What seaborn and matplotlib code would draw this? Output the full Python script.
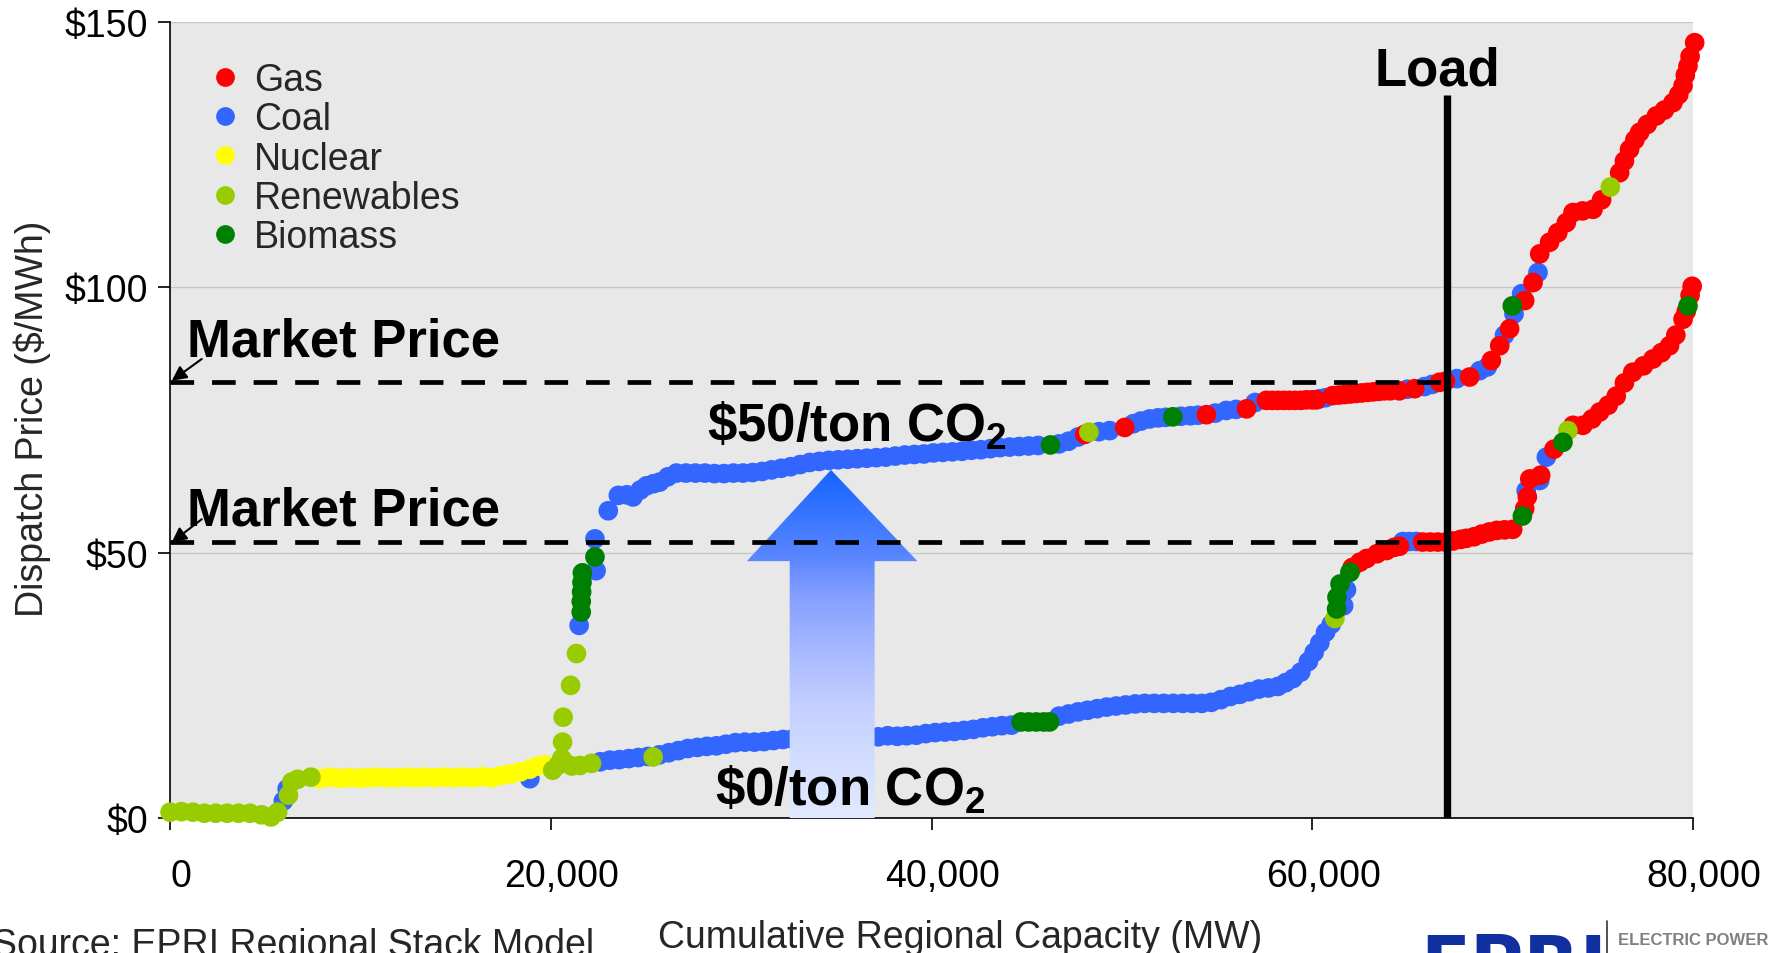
import matplotlib
matplotlib.use("Agg")
import numpy as np
import pandas as pd
import matplotlib.pyplot as plt
import matplotlib.transforms as mtransforms
import seaborn as sns
from matplotlib.colors import LinearSegmentedColormap
from matplotlib.lines import Line2D
from matplotlib.patches import Polygon
from matplotlib.ticker import FixedLocator, FuncFormatter

# ---------------------------------------------------------------- data
FUELS = ["Gas", "Coal", "Nuclear", "Renewables", "Biomass"]
FUEL_COLORS = {"Gas": "#FF0000", "Coal": "#3366FF", "Nuclear": "#FFFF00",
               "Renewables": "#99CC00", "Biomass": "#008000"}

# low-cost units shared by both supply stacks (MW, $/MWh)
base_renew_mw = [0, 600, 1200, 1800, 2400, 3000, 3600, 4200, 4800, 5300, 5650,
                 6220, 6400, 6700, 7400]
base_renew_price = [1.1, 1.2, 1.1, 0.9, 0.9, 0.9, 0.9, 0.9, 0.6, 0.2, 1.1,
                    4.3, 6.8, 7.3, 7.7]
base_coal_mw = [5950, 6150, 18900]
base_coal_price = [3.2, 5.5, 7.4]
base_nuclear_mw = [7900, 8400, 8900, 9400, 9900, 10400, 10900, 11400, 11900,
                   12400, 12900, 13400, 13900, 14400, 14900, 15400, 15900,
                   16400, 16900, 17400, 17900, 18400, 18900, 19300, 19700]
base_nuclear_price = [7.4, 7.7, 7.5, 7.6, 7.5, 7.6, 7.7, 7.6, 7.6, 7.7, 7.6,
                      7.7, 7.6, 7.7, 7.6, 7.7, 7.6, 7.8, 7.6, 8.0, 8.3, 8.7,
                      9.2, 9.8, 10.0]

# $0/ton CO2 stack
zero_renew_mw = [20100, 20400, 20640, 21100, 21530, 22140, 25380, 61190, 73430]
zero_renew_price = [9.0, 10.0, 10.9, 9.8, 9.9, 10.3, 11.5, 37.6, 73.0]
zero_coal_mw = [22600, 23100, 23600, 24100, 24600, 25100, 25700, 26200, 26700,
                27200, 27700, 28200, 28700, 29200, 29700, 30200, 30700, 31200,
                31700, 32200, 32700, 33200, 33700, 34200, 34700, 35200, 35700,
                36200, 36700, 37200, 37700, 38200, 38700, 39200, 39700, 40200,
                40700, 41200, 41700, 42200, 42700, 43200, 43700, 44200, 46700,
                47200, 47700, 48200, 48700, 49200, 49700, 50200, 50700, 51200,
                51700, 52200, 52700, 53200, 53700, 54200, 54700, 55200, 55700,
                56200, 56700, 57200, 57700, 58200, 58600, 59000, 59400, 59800,
                60100, 60400, 60700, 61000, 61650, 61800, 64760, 65100, 65470,
                71240, 71950, 72300]
zero_coal_price = [10.6, 10.9, 11.0, 11.2, 11.4, 11.6, 11.9, 12.3, 12.7, 13.1,
                   13.3, 13.5, 13.6, 13.9, 14.2, 14.3, 14.3, 14.4, 14.6, 14.8,
                   14.9, 14.9, 15.0, 15.0, 15.1, 15.1, 15.2, 15.2, 15.2, 15.3,
                   15.5, 15.4, 15.5, 15.6, 15.9, 16.1, 16.2, 16.3, 16.5, 16.7,
                   17.0, 17.2, 17.4, 17.5, 19.2, 19.6, 20.0, 20.3, 20.6, 20.9,
                   21.1, 21.3, 21.5, 21.6, 21.6, 21.6, 21.6, 21.6, 21.6, 21.6,
                   21.8, 22.3, 22.9, 23.3, 23.8, 24.3, 24.5, 24.8, 25.5, 26.3,
                   27.5, 29.5, 31.2, 33.0, 35.0, 36.5, 40.0, 43.0, 52.1, 52.1,
                   52.1, 61.7, 63.6, 68.0]
zero_biomass_mw = [44700, 45100, 45500, 45900, 46200, 61280, 61300, 61460,
                   61980, 71040, 73170, 79740]
zero_biomass_price = [18.1, 18.1, 18.1, 18.1, 18.1, 39.4, 41.6, 44.1, 46.3,
                      56.9, 70.8, 96.5]
zero_gas_mw = [62100, 62500, 62860, 63400, 63900, 64300, 64580, 65800, 66200,
               66600, 67000, 67400, 67800, 68090, 68500, 68900, 69300, 69700,
               70100, 70530, 71160, 71300, 71430, 72000, 72700, 73700, 74220,
               74700, 75100, 75550, 75970, 76400, 76840, 77400, 77900, 78350,
               78770, 79100, 79480, 79650, 79850, 79960]
zero_gas_price = [47.2, 48.2, 48.9, 49.8, 50.4, 51.0, 51.2, 52.0, 52.0, 52.0,
                  52.0, 52.2, 52.5, 52.7, 53.0, 53.5, 53.9, 54.2, 54.3, 54.4,
                  58.3, 60.5, 63.9, 64.6, 69.5, 74.0, 74.0, 75.2, 76.5, 77.8,
                  79.5, 82.0, 84.0, 85.2, 86.5, 87.7, 89.0, 91.0, 94.0, 95.5,
                  98.5, 100.2]

# $50/ton CO2 stack
fifty_renew_mw = [20570, 20620, 20650, 21040, 21350, 48270, 75660]
fifty_renew_price = [11.2, 14.3, 19.0, 25.0, 31.0, 72.7, 118.9]
fifty_biomass_mw = [21600, 21600, 21620, 21640, 21660, 22320, 46250, 52680,
                    70510]
fifty_biomass_price = [38.8, 40.8, 42.6, 44.4, 46.2, 49.2, 70.3, 75.6, 96.5]
fifty_coal_mw = [21490, 22380, 22320, 23020, 23550, 24000, 24320, 24700, 25030,
                 25400, 25720, 26150, 26600, 27100, 27600, 28100, 28600, 29100,
                 29600, 30100, 30600, 31100, 31600, 32100, 32600, 33100, 33600,
                 34100, 34600, 35100, 35600, 36100, 36600, 37100, 37600, 38100,
                 38600, 39100, 39600, 40100, 40600, 41100, 41600, 42100, 42600,
                 43100, 43600, 44100, 44600, 45100, 45600, 46700, 47200, 47700,
                 48800, 49360, 50600, 51000, 51460, 51900, 52300, 53100, 53600,
                 54000, 54900, 55480, 56000, 57000, 60390, 60700, 65000, 65900,
                 66300, 67600, 68800, 69200, 70100, 70600, 71000, 71860]
fifty_coal_price = [36.3, 46.6, 52.6, 57.9, 60.8, 60.9, 60.5, 61.8, 62.6, 63.0,
                    63.3, 64.3, 65.0, 65.0, 65.0, 65.0, 64.9, 64.9, 65.0, 65.0,
                    65.1, 65.3, 65.6, 65.9, 66.2, 66.6, 67.0, 67.2, 67.4, 67.5,
                    67.6, 67.7, 67.8, 67.9, 68.0, 68.2, 68.4, 68.5, 68.6, 68.8,
                    68.9, 69.0, 69.1, 69.3, 69.4, 69.6, 69.8, 69.9, 70.0, 70.1,
                    70.2, 70.5, 71.0, 71.8, 72.8, 73.0, 74.3, 74.8, 75.2, 75.4,
                    75.5, 75.7, 75.8, 75.9, 76.3, 76.8, 77.0, 78.3, 79.0, 79.2,
                    80.8, 81.3, 81.7, 82.8, 84.3, 85.0, 91.0, 95.0, 98.8, 102.8]
fifty_gas_mw = [48050, 50150, 54440, 56550, 57590, 57900, 58200, 58500, 58800,
                59100, 59400, 59700, 60000, 60220, 61080, 61400, 61700, 62000,
                62300, 62600, 62900, 63200, 63500, 63800, 64100, 64580, 65380,
                66690, 67000, 68270, 69410, 69850, 70370, 71160, 71600, 71950,
                72470, 72900, 73350, 73700, 74200, 74750, 75200, 76150, 76400,
                76670, 76950, 77200, 77600, 78080, 78500, 78950, 79250, 79480,
                79600, 79740, 79850, 80090]
fifty_gas_price = [72.3, 73.6, 76.0, 77.1, 78.7, 78.7, 78.7, 78.7, 78.7, 78.7,
                   78.7, 78.8, 78.8, 78.8, 79.6, 79.7, 79.8, 79.9, 80.0, 80.1,
                   80.2, 80.3, 80.4, 80.5, 80.5, 80.5, 80.9, 82.1, 82.3, 83.1,
                   86.2, 89.0, 92.2, 97.5, 100.9, 106.3, 108.5, 110.3, 112.2,
                   114.1, 114.4, 114.7, 116.5, 121.6, 123.8, 126.0, 127.8,
                   129.2, 130.7, 132.3, 133.4, 134.8, 136.3, 138.0, 140.0,
                   141.7, 143.5, 146.1]

MARKET_PRICE_50 = 82.2
MARKET_PRICE_0 = 52.0
LOAD_MW = 67100
LOAD_TOP = 136.2

X_TICKS = [0, 20000, 40000, 60000, 80000]
Y_TICKS = [0, 50, 100, 150]

# ---------------------------------------------------------------- frame
def block(mw, price, fuel):
    return pd.DataFrame({"mw": mw, "price": price, "fuel": fuel})

# layering: coal underneath, then nuclear, gas, renewables, biomass on top
stack = pd.concat([
    block(base_coal_mw, base_coal_price, "Coal"),
    block(zero_coal_mw, zero_coal_price, "Coal"),
    block(fifty_coal_mw, fifty_coal_price, "Coal"),
    block(base_nuclear_mw, base_nuclear_price, "Nuclear"),
    block(zero_gas_mw, zero_gas_price, "Gas"),
    block(fifty_gas_mw, fifty_gas_price, "Gas"),
    block(base_renew_mw, base_renew_price, "Renewables"),
    block(zero_renew_mw, zero_renew_price, "Renewables"),
    block(fifty_renew_mw, fifty_renew_price, "Renewables"),
    block(zero_biomass_mw, zero_biomass_price, "Biomass"),
    block(fifty_biomass_mw, fifty_biomass_price, "Biomass"),
], ignore_index=True)

# ---------------------------------------------------------------- style
sns.set_theme(style="ticks")
plt.rcParams["font.family"] = ["Liberation Sans", "DejaVu Sans"]
plt.rcParams["mathtext.default"] = "regular"

FS = 27  # regular text size

fig = plt.figure(figsize=(17.77, 9.54), dpi=100)
ax = fig.add_axes([0.0957, 0.1415, 0.8570, 0.8344])
ax.set_facecolor("#E8E8E8")

sns.scatterplot(data=stack, x="mw", y="price", hue="fuel", hue_order=FUELS,
                palette=FUEL_COLORS, s=200, linewidth=0, alpha=1,
                clip_on=False, zorder=3, legend=False, ax=ax)

# gradient arrow from the $0 stack up to the $50 stack
arrow_cmap = LinearSegmentedColormap.from_list(
    "arrow", [(0.0, "#E6EFFF"), (0.37, "#C2CEFF"), (0.65, "#87A0FF"),
              (0.76, "#5A86FF"), (1.0, "#1464FF")])
arrow_outline = [(32550, -3.4), (32550, 48.4), (30300, 48.4), (34720, 65.6),
                 (39260, 48.4), (37010, 48.4), (37010, -3.4)]
arrow_patch = Polygon(arrow_outline, closed=True, facecolor="none",
                      edgecolor="none", transform=ax.transData)
ax.add_patch(arrow_patch)
gradient = np.linspace(0, 1, 256).reshape(-1, 1)
img = ax.imshow(gradient, extent=[30300, 39260, -3.4, 65.6], origin="lower",
                cmap=arrow_cmap, aspect="auto", zorder=4, interpolation="bilinear")
img.set_clip_path(arrow_patch)
img.set_clip_box(None)

# market price lines and load line
for price in (MARKET_PRICE_50, MARKET_PRICE_0):
    ax.plot([0, LOAD_MW], [price, price], color="black", lw=3.4,
            ls=(0, (5, 3.8)), zorder=5, clip_on=False)
ax.plot([LOAD_MW, LOAD_MW], [0, LOAD_TOP], color="black", lw=5.3,
        solid_capstyle="butt", zorder=6)

# annotations
bold = dict(fontsize=38, fontweight="bold", color="black", zorder=8)
ax.text(66580, 138.3, "Load", ha="center", va="baseline", **bold)
ax.text(893, 87.1, "Market Price", ha="left", va="baseline", **bold)
ax.text(893, 55.4, "Market Price", ha="left", va="baseline", **bold)
ax.text(28230, 71.1, r"\$50/ton CO$_2$", ha="left", va="baseline", **bold)
ax.text(28630, 2.6, r"\$0/ton CO$_2$", ha="left", va="baseline", **bold)
for tail, tip in (((1665, 86.5), (89, 82.4)), ((1665, 56.3), (89, 51.95))):
    ax.annotate("", xy=tip, xytext=tail, zorder=8, annotation_clip=False,
                arrowprops=dict(arrowstyle="-|>", color="black", lw=1.5,
                                mutation_scale=22, shrinkA=0, shrinkB=0))

# legend
handles = [Line2D([], [], ls="", marker="o", markersize=13.5,
                  markerfacecolor=FUEL_COLORS[f], markeredgewidth=0)
           for f in FUELS]
ax.legend(handles, FUELS, loc="upper left", bbox_to_anchor=(0.0289, 0.950),
          frameon=False, fontsize=FS, borderpad=0, borderaxespad=0,
          handlelength=0.6, handletextpad=0.47, labelspacing=0.09)

# axes
ax.set_xlim(0, 80000)
ax.set_ylim(0, 150)
ax.xaxis.set_major_locator(FixedLocator(X_TICKS))
ax.yaxis.set_major_locator(FixedLocator(Y_TICKS))
ax.xaxis.set_major_formatter(FuncFormatter(lambda v, _: f"{v:,.0f}"))
ax.yaxis.set_major_formatter(FuncFormatter(lambda v, _: f"${v:.0f}"))
ax.tick_params(axis="both", direction="out", length=8.5, width=1.2,
               labelsize=FS, color="black", labelcolor="black")
ax.tick_params(axis="x", pad=20)
ax.tick_params(axis="y", pad=7)
ax.yaxis.grid(True, color="#C8C8C8", lw=1.0)
ax.xaxis.grid(False)
ax.set_axisbelow(True)
for side in ("top", "right"):
    ax.spines[side].set_visible(False)
for side in ("left", "bottom"):
    ax.spines[side].set_color("black")
    ax.spines[side].set_linewidth(1.2)

ax.set_xlabel("Cumulative Regional Capacity (MW)", fontsize=FS, va="center")
ax.xaxis.set_label_coords(0.5187, -0.1500)
ax.set_ylabel("Dispatch Price ($/MWh)", fontsize=FS, va="center")
ax.yaxis.set_label_coords(-0.0906, 0.5025)

fig.canvas.draw()
shift = mtransforms.ScaledTranslation(0.11, 0, fig.dpi_scale_trans)
for lab in ax.get_xticklabels():
    lab.set_transform(lab.get_transform() + shift)

# footer: source note and logo
fig.text(-0.0045, -0.002, "Source: EPRI Regional Stack Model", fontsize=FS,
         ha="left", va="baseline")
fig.text(0.799, -0.0356, "EPRI", fontsize=52.6, fontweight="bold",
         family="DejaVu Sans", color="#10309F", ha="left", va="baseline")
fig.add_artist(Line2D([0.9043, 0.9043], [0.0, 0.0335], color="#333333",
                      lw=1.2, transform=fig.transFigure))
fig.text(0.9105, 0.0094, "ELECTRIC POWER", fontsize=12, fontweight="bold",
         color="#808080", ha="left", va="baseline")

fig.savefig("out.png", dpi=100)
